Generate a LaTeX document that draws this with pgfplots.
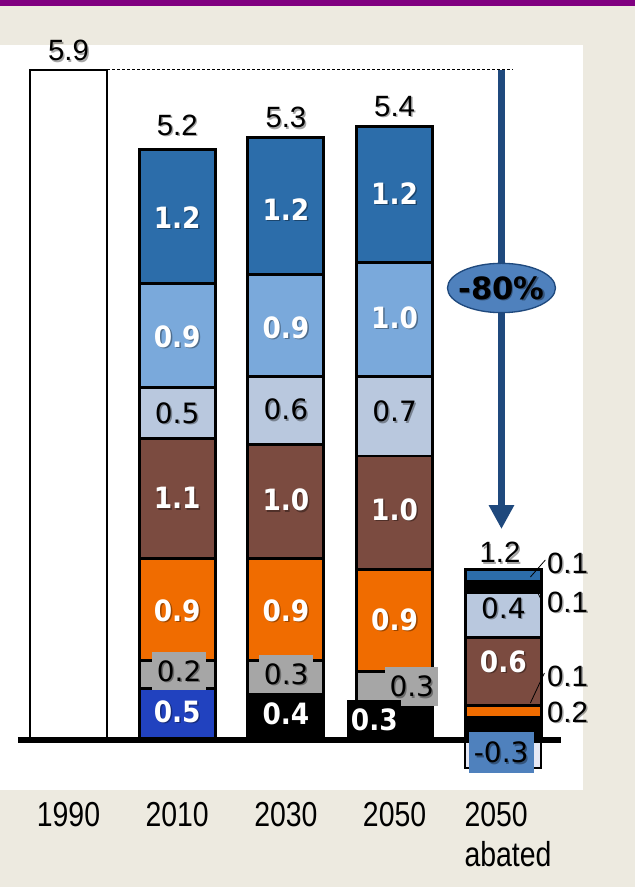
\documentclass[border=0pt]{standalone}
\usepackage{fontspec}
\usepackage{pgfplots}
\pgfplotsset{compat=1.18}
\usetikzlibrary{arrows.meta,shapes.geometric}
\setmainfont{DejaVu Sans}
\newfontfamily\narrowfont[FakeStretch=0.82]{Liberation Sans}
\newfontfamily\arialfont{Liberation Sans}
\newfontfamily\segfont{DejaVu Sans}
\newfontfamily\segboldfont[FakeStretch=0.9]{DejaVu Sans}
\definecolor{bgbeige}{HTML}{EDEAE0}
\definecolor{purp}{HTML}{800080}
\definecolor{cblue}{HTML}{2C6DAA}
\definecolor{clblue}{HTML}{7AA9DB}
\definecolor{cpale}{HTML}{B9C8DE}
\definecolor{cbrown}{HTML}{7B4B40}
\definecolor{corange}{HTML}{F06C00}
\definecolor{cgray}{HTML}{A6A6A6}
\definecolor{cdblue}{HTML}{2142BF}
\definecolor{arrowblue}{HTML}{1F497D}
\definecolor{ellblue}{HTML}{4F81BD}
\definecolor{negfill}{HTML}{E6E8F4}
\tikzset{
 BW/.style={font=\segboldfont\bfseries\fontsize{22pt}{24pt}\selectfont, text=white, inner sep=0pt},
 RB/.style={font=\segfont\fontsize{21pt}{23pt}\selectfont, text=black, inner sep=0pt},
 NR/.style={font=\arialfont\fontsize{22pt}{24pt}\selectfont, text=black, inner sep=0pt},
 SH/.style={text=black, opacity=0.35, xshift=1.1pt, yshift=-1.1pt},
}
% label with a soft drop shadow: [style]{x}{y}{text}
\newcommand{\lbl}[4][]{%
 \node[#1, SH] at (axis cs:#2,#3) {#4};
 \node[#1] at (axis cs:#2,#3) {#4};}
\begin{document}
\begin{tikzpicture}
\fill[bgbeige] (0pt,0pt) rectangle (476.25pt,665.25pt);
\fill[purp] (0pt,660.75pt) rectangle (476.25pt,665.25pt);
\pgfplotsset{myaxis/.style={at={(0pt,72.75pt)}, anchor=south west, scale only axis,
  width=437.25pt, height=558.75pt, xmin=-0.630, xmax=4.733, ymin=-0.440, ymax=6.118,
  clip=false, axis line style={draw=none}, ytick=\empty, major tick length=0pt}}
\begin{axis}[myaxis, axis background/.style={fill=white}, ybar stacked, bar width=0.70,
  xtick={0,1,2,3,4}, xticklabels={1990,2010,2030,2050,{\hspace*{7pt}2050\\\hspace*{7pt}abated}},
  xticklabel style={font=\narrowfont\fontsize{26pt}{30pt}\selectfont, align=left, inner sep=0pt, yshift=-9pt}]
% stacked series, bottom to top
\addplot[fill=white, draw=black, line width=1.5pt] coordinates {(0,5.9) (1,0) (2,0) (3,0) (4,0)};
\addplot[fill=cdblue, draw=black, line width=2.2pt] coordinates {(0,0) (1,0.45) (2,0) (3,0) (4,0)};
\addplot[fill=black, draw=black, line width=2.2pt] coordinates {(0,0) (1,0) (2,0.4) (3,0.3) (4,0.2)};
\addplot[fill=cgray, draw=black, line width=2.2pt] coordinates {(0,0) (1,0.25) (2,0.3) (3,0.3) (4,0)};
\addplot[fill=corange, draw=black, line width=2.2pt] coordinates {(0,0) (1,0.9) (2,0.9) (3,0.9) (4,0.1)};
\addplot[fill=cbrown, draw=black, line width=2.2pt] coordinates {(0,0) (1,1.05) (2,1.0) (3,1.0) (4,0.6)};
\addplot[fill=cpale, draw=black, line width=2.2pt] coordinates {(0,0) (1,0.45) (2,0.6) (3,0.7) (4,0.4)};
\addplot[fill=black, draw=black, line width=2.2pt] coordinates {(0,0) (1,0) (2,0) (3,0) (4,0.1)};
\addplot[fill=clblue, draw=black, line width=2.2pt] coordinates {(0,0) (1,0.92) (2,0.9) (3,1.0) (4,0)};
\addplot[fill=cblue, draw=black, line width=2.2pt] coordinates {(0,0) (1,1.18) (2,1.2) (3,1.2) (4,0.1)};
\end{axis}
\begin{axis}[myaxis, ybar, bar width=0.70, xtick=\empty]
\addplot[fill=negfill, draw=black, line width=1.5pt] coordinates {(4,-0.25)};
\draw[black, line width=4pt] (axis cs:-0.465,0) -- (axis cs:4.526,0);
\node[fill=ellblue, minimum width=48.75pt, minimum height=30.75pt, inner sep=0pt] at (axis cs:3.98,-0.110) {};
\lbl[RB]{3.98}{-0.110}{-0.3}
% dashed reference and arrow
\draw[black, line width=0.6pt, dash pattern=on 2.25pt off 1.5pt] (axis cs:0.355,5.9) -- (axis cs:4.085,5.9);
\draw[arrowblue, line width=5.25pt, -{Triangle[width=18pt,length=18pt]}] (axis cs:3.983,5.9) -- (axis cs:3.983,1.857);
\node[ellipse, fill=ellblue, draw=arrowblue, line width=1pt, minimum width=81pt, minimum height=37pt, inner sep=0pt] at (axis cs:3.983,3.979) {};
\lbl[font=\segfont\bfseries\fontsize{23pt}{25pt}\selectfont, inner sep=0pt]{3.983}{3.979}{-80\%}
% totals
\lbl[NR]{0}{6.07}{5.9}
\lbl[NR]{1}{5.41}{5.2}
\lbl[NR]{2}{5.48}{5.3}
\lbl[NR]{3}{5.58}{5.4}
\lbl[NR]{3.97}{1.65}{1.2}
% 2010
\lbl[BW]{1}{4.60}{1.2}
\lbl[BW]{1}{3.55}{0.9}
\lbl[RB]{1}{2.88}{0.5}
\lbl[BW]{1}{2.13}{1.1}
\lbl[BW]{1}{1.14}{0.9}
\node[fill=cgray, minimum width=40.5pt, minimum height=28.5pt, inner sep=0pt] at (axis cs:1.018,0.607) {};
\lbl[RB]{1.018}{0.607}{0.2}
\lbl[BW]{1}{0.25}{0.5}
% 2030
\lbl[BW]{2}{4.67}{1.2}
\lbl[BW]{2}{3.63}{0.9}
\lbl[RB]{2}{2.91}{0.6}
\lbl[BW]{2}{2.11}{1.0}
\lbl[BW]{2}{1.14}{0.9}
\node[fill=cgray, minimum width=40.5pt, minimum height=28.5pt, inner sep=0pt] at (axis cs:2.003,0.581) {};
\lbl[RB]{2.003}{0.581}{0.3}
\lbl[BW]{2}{0.23}{0.4}
% 2050
\lbl[BW]{3}{4.81}{1.2}
\lbl[BW]{3}{3.72}{1.0}
\lbl[RB]{3}{2.89}{0.7}
\lbl[BW]{3}{2.03}{1.0}
\lbl[BW]{3}{1.06}{0.9}
\node[fill=cgray, minimum width=40pt, minimum height=29pt, inner sep=0pt] at (axis cs:3.158,0.471) {};
\lbl[RB]{3.158}{0.471}{0.3}
\node[fill=black, minimum width=40.5pt, minimum height=30pt, inner sep=0pt] at (axis cs:2.813,0.176) {};
\lbl[BW]{2.813}{0.176}{0.3}
% abated
\lbl[RB]{4}{1.16}{0.4}
\lbl[BW]{4}{0.69}{0.6}
\lbl[NR, anchor=west]{4.40}{1.558}{0.1}
\lbl[NR, anchor=west]{4.40}{1.215}{0.1}
\lbl[NR, anchor=west]{4.40}{0.563}{0.1}
\lbl[NR, anchor=west]{4.40}{0.246}{0.2}
\draw[black, line width=0.6pt] (axis cs:4.387,1.585) -- (axis cs:4.249,1.435);
\draw[black, line width=0.6pt] (axis cs:4.341,1.25) -- (axis cs:4.295,1.338);
\draw[black, line width=0.6pt] (axis cs:4.378,0.59) -- (axis cs:4.249,0.326);
\end{axis}
\end{tikzpicture}
\end{document}
